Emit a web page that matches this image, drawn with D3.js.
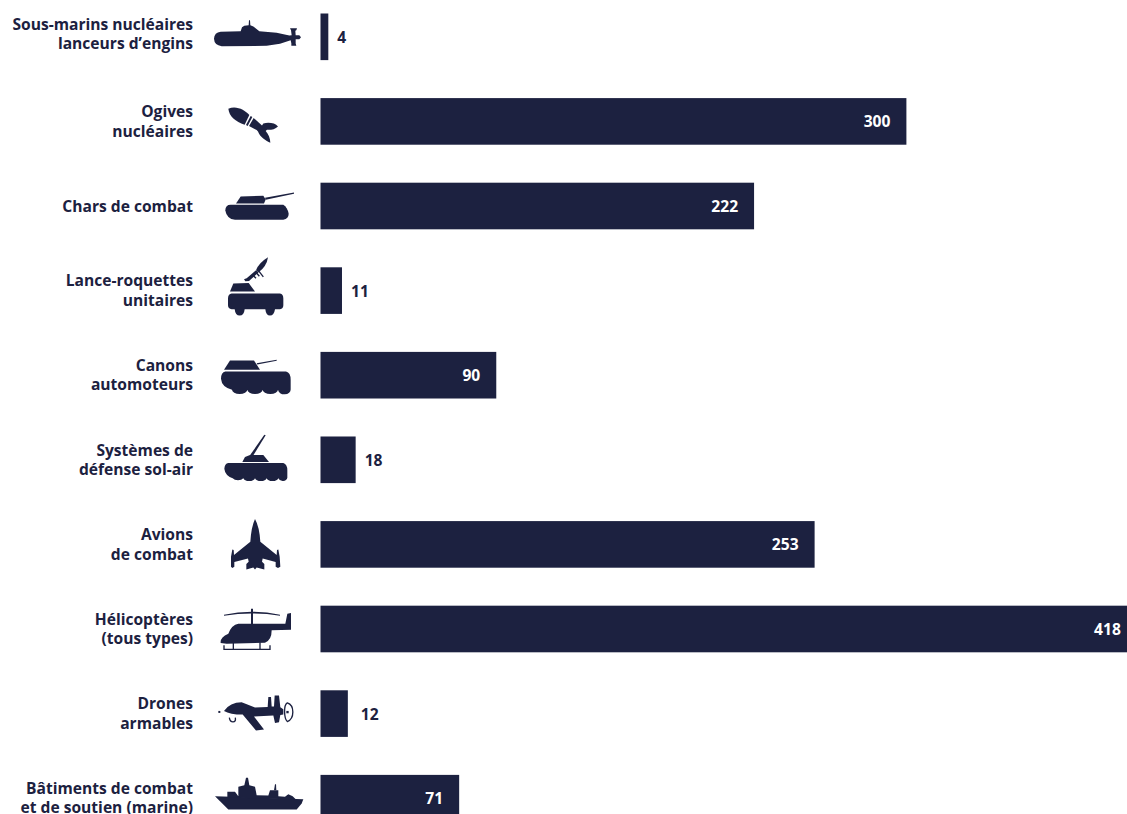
<!DOCTYPE html>
<html lang="fr">
<head>
<meta charset="utf-8">
<title>Forces</title>
<script src="https://cdn.jsdelivr.net/npm/d3@7"></script>
<style>
  html, body { margin: 0; padding: 0; background: #fff; overflow: hidden; }
  svg { display: block; }
  text { font-family: "Open Sans", sans-serif; font-weight: 700; }
</style>
</head>
<body>
<div id="chart"></div>
<script>
// Row labels, one inner array per text line
const categories = [
  ['Sous-marins nucléaires', 'lanceurs d’engins'],
  ['Ogives', 'nucléaires'],
  ['Chars de combat'],
  ['Lance-roquettes', 'unitaires'],
  ['Canons', 'automoteurs'],
  ['Systèmes de', 'défense sol-air'],
  ['Avions', 'de combat'],
  ['Hélicoptères', '(tous types)'],
  ['Drones', 'armables'],
  ['Bâtiments de combat', 'et de soutien (marine)']
];
const valueLabels = ['4', '300', '222', '11', '90', '18', '253', '418', '12', '71'];
// Bar lengths as drawn: the drones bar in the picture is a little longer than its label says
const barValues = [4, 300, 222, 11, 90, 18, 253, 418, 14, 71];
const iconNames = ['sub', 'missile', 'tank', 'launcher', 'gun', 'airDefense', 'jet', 'helicopter', 'drone', 'ship'];

const NAVY = '#1c2140';
const width = 1127;
const height = 814;

// Icon shapes, traced at 3x. cy = the row centre in the tracing's own units
const ICONS = {
  sub: { cy: 110, fill: [
    'M42 116 Q43 97 62 95 L122 93 L126 81 L133 77 L146 75 L147 60 L150 60 L151 75 L160 79 L178 93 L230 98 L268 106 L275 105 L273 90 L270 84 L291 84 L289 90 L286 92 L287 105 L298 105 L303 111 L298 117 L287 117 L287 130 L289 137 L274 137 L274 129 L272 120 L240 131 L200 137 L65 138 Q43 136 42 116Z'
  ]},
  missile: { cy: 364, fill: [
    'M85 326 C110 316 134 330 148 345 L134 374 C106 364 88 350 85 326Z',
    'M152 348 L157 351 L143 378 L138 375Z',
    'M161 354 L186 376 L190 370 C205 366 225 368 234 379 C225 388 212 390 201 389 L197 393 C205 402 211 415 211 428 C198 422 180 411 174 394 L170 390 L147 378Z'
  ]},
  tank: { cy: 616.5, fill: [
    'M76 630 Q76 613 92 613 L250 613 Q262 620 266 640 Q266 655 250 658 L105 658 Q80 655 76 630Z',
    'M108 609 L122 588 L190 586 L197 597 L192 609Z',
    'M195 592 L282 576 L282 580 L197 598Z'
  ]},
  launcher: { cy: 871, fill: [
    'M95 880 L240 880 Q250 882 250 895 L250 915 Q250 925 240 927 L225 927 Q222 946 210 946 Q198 946 196 927 L134 927 Q132 946 119 946 Q106 946 104 927 L95 927 Q84 925 84 915 L84 895 Q84 882 95 880Z',
    'M90 874 L100 850 L146 848 L165 874Z',
    'M132 837 L140 834 L168 810 L176 816 L147 842 L136 843Z',
    'M168 810 Q176 788 204 771 Q200 798 176 816Z'
  ], line: ['M158 824 L168 834 M168 816 L178 828 M176 812 L190 830'] },
  gun: { cy: 104, fill: [
    'M76 93 L258 93 Q272 96 272 118 L272 146 A16 12 0 0 1 234 148 A22 12 0 0 1 188 148 A22 12 0 0 1 142 148 A22 12 0 0 1 96 148 Q65 140 63 115 Q63 95 76 93Z',
    'M72 88 L90 60 L162 60 L180 88Z',
    'M170 68 L230 58 L230 61 L172 72Z'
  ]},
  airDefense: { cy: 358.5, fill: [
    'M85 368 L250 368 Q262 372 262 390 L262 412 A14 12 0 0 1 235 414 A18 11 0 0 1 200 414 A18 11 0 0 1 165 414 A18 11 0 0 1 130 414 A18 11 0 0 1 98 414 Q75 405 73 385 Q74 370 85 368Z',
    'M127 365 L135 350 L150 344 L190 344 L207 365Z',
    'M150 345 L193 283 L197 285 L160 345Z'
  ]},
  jet: { cy: 613, fill: [
    'M165 537 Q178 560 181 605 L230 645 L231 630 L235 628 L239 650 L241 680 L234 684 L227 680 L227 666 L188 655 L186 665 L193 672 L193 688 L170 682 L165 688 L160 682 L139 688 L139 672 L146 665 L144 655 L103 666 L103 680 L97 684 L93 680 L93 650 L97 628 L101 630 L102 645 L151 605 Q154 560 165 537Z'
  ]},
  helicopter: { cy: 116, fill: [
    'M72 73 Q155 55 240 73 L240 76 Q155 63 72 76Z',
    'M153 55 L159 55 L159 105 L153 105Z',
    'M62 158 Q60 140 85 130 Q95 103 115 100 L256 100 L262 70 L273 68 L273 118 L215 120 Q215 150 195 157 L80 160Z'
  ], line: ['M72 165 L72 177 L210 177 L210 165 M100 158 L100 177 M180 156 L180 177'] },
  drone: { cy: 370, fill: [
    'M72 362 Q90 336 125 336 L165 352 L203 350 L205 320 L213 320 L215 349 L222 349 L224 316 L237 316 L241 351 L250 357 L250 373 L241 374 L237 396 L225 398 L220 376 L162 379 L192 418 L168 421 L128 373 Q90 373 72 362Z',
    'M55 362 h6 v6 h-6Z',
    'M259 362 h7 v7 h-7Z'
  ], line: ['M88 382 Q90 395 99 395 Q108 395 106 382', 'M262 338 C284 345 284 385 262 394 C252 385 250 345 262 338Z'] },
  ship: { cy: 624, fill: [
    'M45 618 L310 627 L305 640 L290 658 L85 658Z',
    'M82 622 L82 605 L105 605 L115 618 L115 590 L133 585 L138 563 L144 563 L148 585 L165 590 L170 615 L205 616 L210 600 L235 600 L235 618 L255 620 L265 612 L278 618 L288 628Z',
    'M222 600 L225 582 L228 582 L229 600Z'
  ]}
};

const x = d3.scaleLinear().domain([0, 100]).range([320.5, 515.8]);
const y = d3.scaleBand()
  .domain(d3.range(categories.length))
  .range([13.5, 821.5])
  .paddingInner(0.449)
  .paddingOuter(0);

const svg = d3.select('#chart').append('svg')
  .attr('width', width)
  .attr('height', height)
  .attr('viewBox', `0 0 ${width} ${height}`);

const rows = svg.selectAll('g.row')
  .data(categories.map((lines, i) => ({
    lines, i, value: barValues[i], label: valueLabels[i], icon: ICONS[iconNames[i]]
  })))
  .join('g')
  .attr('class', 'row')
  .attr('transform', d => `translate(0,${y(d.i) + y.bandwidth() / 2})`);

// Bars
rows.append('rect')
  .attr('x', x(0))
  .attr('y', -y.bandwidth() / 2)
  .attr('width', d => x(d.value) - x(0))
  .attr('height', y.bandwidth())
  .attr('fill', NAVY);

// Category labels, right aligned. The first row sits a bit higher than its bar
rows.append('text')
  .attr('text-anchor', 'end')
  .attr('font-size', 15.6)
  .attr('fill', NAVY)
  .attr('transform', d => d.i === 0 ? 'translate(0,-3)' : null)
  .selectAll('tspan')
  .data(d => d.lines.map((t, k) => ({ t, k, n: d.lines.length })))
  .join('tspan')
  .attr('x', 193)
  .attr('y', d => (d.k - (d.n - 1) / 2) * 19.5 + 5.5)
  .text(d => d.t);

// Values: inside the bar when it is long enough, otherwise right after it
rows.append('text')
  .attr('font-size', 15.6)
  .attr('y', 6)
  .attr('text-anchor', d => d.value > 30 ? 'end' : 'start')
  .attr('x', d => d.value > 30 ? x(d.value) - 16 : x(d.value) + (d.i === 8 ? 13 : 9))
  .attr('fill', d => d.value > 30 ? '#fff' : NAVY)
  .text(d => d.label);

// Icons
const icons = rows.append('g')
  .attr('transform', d => `translate(200,${-d.icon.cy / 3}) scale(${1 / 3})`);
icons.selectAll('path.f')
  .data(d => d.icon.fill)
  .join('path')
  .attr('class', 'f')
  .attr('d', d => d)
  .attr('fill', NAVY);
icons.selectAll('path.l')
  .data(d => d.icon.line || [])
  .join('path')
  .attr('class', 'l')
  .attr('d', d => d)
  .attr('fill', 'none')
  .attr('stroke', NAVY)
  .attr('stroke-width', 4);
</script>
</body>
</html>
